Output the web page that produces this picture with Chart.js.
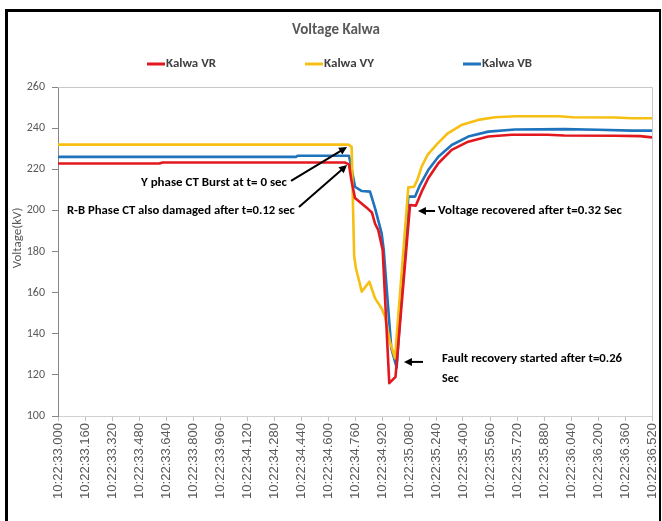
<!DOCTYPE html>
<html><head><meta charset="utf-8">
<script src="https://cdn.jsdelivr.net/npm/chart.js@4.4.1/dist/chart.umd.min.js"></script>
<style>
html,body{margin:0;padding:0;background:#fff;width:662px;height:521px;overflow:hidden}
#frame{position:absolute;left:5px;top:9px;width:651px;height:512px;border-left:3px solid #000;border-top:3px solid #000;border-right:2px solid #000;box-sizing:content-box}
#c{position:absolute;left:8px;top:12px}
</style></head><body>
<div id="frame"></div>
<canvas id="c" width="650" height="509"></canvas>
<script>
// ---- data (time in seconds after 10:22:33.000, voltage in kV) ----
const seriesNames = ['Kalwa VR', 'Kalwa VY', 'Kalwa VB'];
const tickLabels = ['10:22:33.000','10:22:33.160','10:22:33.320','10:22:33.480','10:22:33.640','10:22:33.800',
 '10:22:33.960','10:22:34.120','10:22:34.280','10:22:34.440','10:22:34.600','10:22:34.760','10:22:34.920',
 '10:22:35.080','10:22:35.240','10:22:35.400','10:22:35.560','10:22:35.720','10:22:35.880','10:22:36.040',
 '10:22:36.200','10:22:36.360','10:22:36.520'];
const yTicks = [100,120,140,160,180,200,220,240,260];

const tR = [0, 0.60, 0.62, 1.70, 1.724, 1.74, 1.76, 1.79, 1.84, 1.86, 1.879, 1.898, 1.924, 1.963, 2.00, 2.086, 2.12, 2.155, 2.194, 2.254, 2.333, 2.431, 2.55, 2.689, 2.90, 3.00, 3.30, 3.45, 3.52];
const vR = [222.8, 222.8, 223.3, 223.3, 222.4, 214.0, 206.0, 204.0, 200.5, 199.0, 193.5, 190.4, 180.7, 116.0, 119.0, 202.6, 202.3, 209.1, 215.6, 222.9, 229.4, 233.4, 235.9, 236.8, 236.8, 236.4, 236.3, 236.1, 235.5];

const tY = [0, 1.72, 1.74, 1.755, 1.765, 1.80, 1.845, 1.879, 1.918, 1.938, 1.967, 1.997, 2.076, 2.11, 2.13, 2.155, 2.19, 2.25, 2.31, 2.39, 2.49, 2.59, 2.71, 2.97, 3.05, 3.30, 3.40, 3.52];
const vY = [232.0, 232.0, 231.0, 178.0, 172.0, 160.5, 165.3, 157.2, 152.3, 148.3, 136.1, 128.1, 211.2, 211.5, 215.0, 221.3, 227.0, 232.6, 237.5, 241.5, 244.0, 245.3, 245.8, 245.8, 245.3, 245.2, 244.8, 244.8];

const tB = [0, 1.41, 1.42, 1.724, 1.736, 1.76, 1.80, 1.849, 1.879, 1.918, 1.93, 1.975, 2.007, 2.076, 2.116, 2.145, 2.194, 2.254, 2.333, 2.431, 2.55, 2.708, 3.00, 3.20, 3.40, 3.52];
const vB = [226.0, 226.0, 226.6, 226.6, 222.0, 211.5, 209.4, 209.1, 201.0, 188.8, 181.0, 133.0, 123.5, 206.7, 206.7, 212.3, 219.6, 226.1, 231.8, 235.9, 238.3, 239.3, 239.5, 239.2, 238.8, 238.8];

const colors = ['#e3171e', '#f7bf12', '#1f73bd'];

// ---- font choice ----
function pickFont(cands){
  const c = document.createElement('canvas').getContext('2d');
  const s = 'Voltage Kalwa 0123456789 sec';
  for (const f of cands){
    c.font = `bold 20px "${f}", monospace`; const a = c.measureText(s).width;
    c.font = `bold 20px "${f}", serif`; const b = c.measureText(s).width;
    if (Math.abs(a-b) < 0.01) return `"${f}"`;
  }
  return 'sans-serif';
}
const UI = pickFont(['Carlito','Liberation Sans Narrow','Lato','Open Sans']);

function labelSec(lbl){ const p = lbl.split(':'); return Math.round(((+p[1]-22)*60 + (+p[2]) - 33)*1000)/1000; }
const tickVals = tickLabels.map(labelSec);

function pts(t, v){ return t.map((x,i)=>({x, y:v[i]})); }

function fitText(ctx, text, x, y, w, align){
  const m = ctx.measureText(text).width;
  const sx = w ? w/m : 1;
  ctx.save();
  ctx.translate(x, y);
  ctx.scale(sx, 1);
  ctx.textAlign = align || 'left';
  ctx.fillText(text, 0, 0);
  ctx.restore();
}
function arrow(ctx, x1, y1, x2, y2){
  const a = Math.atan2(y2-y1, x2-x1), L = 8, W = 4;
  ctx.beginPath(); ctx.moveTo(x1,y1); ctx.lineTo(x2 - Math.cos(a)*L*0.8, y2 - Math.sin(a)*L*0.8); ctx.stroke();
  ctx.beginPath();
  ctx.moveTo(x2, y2);
  ctx.lineTo(x2 - L*Math.cos(a) + W*Math.sin(a), y2 - L*Math.sin(a) - W*Math.cos(a));
  ctx.lineTo(x2 - L*Math.cos(a) - W*Math.sin(a), y2 - L*Math.sin(a) + W*Math.cos(a));
  ctx.closePath(); ctx.fill();
}

const deco = {
  id: 'deco',
  afterDraw(chart){
    const ctx = chart.ctx, ca = chart.chartArea, X = chart.scales.x, Y = chart.scales.y;
    ctx.save();
    // plot frame top/right
    ctx.strokeStyle = '#c8c8c8'; ctx.lineWidth = 1;
    ctx.beginPath(); ctx.moveTo(ca.left, ca.top+0.5); ctx.lineTo(ca.right+0.5, ca.top+0.5); ctx.lineTo(ca.right+0.5, ca.bottom); ctx.stroke();
    // title
    ctx.fillStyle = '#595959'; ctx.textBaseline = 'middle';
    ctx.font = `bold 15px ${UI}`;
    fitText(ctx, 'Voltage Kalwa', 328, 18, 88, 'center');
    // legend
    chart.data.datasets.forEach((ds, i) => {
      const x0 = 139 + i*158, y0 = 52;
      ctx.strokeStyle = ds.borderColor; ctx.lineWidth = 3;
      ctx.beginPath(); ctx.moveTo(x0, y0); ctx.lineTo(x0+18, y0); ctx.stroke();
      ctx.fillStyle = '#404040'; ctx.font = `bold 12px ${UI}`;
      fitText(ctx, ds.label, x0+19, y0, 50, 'left');
    });
    // y axis title
    ctx.save(); ctx.translate(10, 226); ctx.rotate(-Math.PI/2);
    ctx.fillStyle = '#595959'; ctx.font = `13px ${UI}`; ctx.textAlign = 'center';
    ctx.fillText('Voltage(kV)', 0, 0); ctx.restore();
    // annotations
    const px = t => X.getPixelForValue(t), py = v => Y.getPixelForValue(v);
    ctx.fillStyle = '#000'; ctx.strokeStyle = '#000'; ctx.lineWidth = 2;
    ctx.font = `bold 12px ${UI}`;
    fitText(ctx, 'Y phase CT Burst at t= 0 sec', px(1.357), py(213.3), 146, 'right');
    arrow(ctx, px(1.381), py(214.3), px(1.713), py(230.8));
    fitText(ctx, 'R-B Phase CT also damaged after t=0.12 sec', px(1.404), py(199.7), 228, 'right');
    arrow(ctx, px(1.428), py(201.6), px(1.713), py(222.1));
    fitText(ctx, 'Voltage recovered after t=0.32 Sec', px(2.252), py(199.7), 184, 'left');
    arrow(ctx, px(2.234), py(199.7), px(2.133), py(199.7));
    fitText(ctx, 'Fault recovery started after t=0.26', px(2.276), py(127.7), 180, 'left');
    fitText(ctx, 'Sec', px(2.276), py(118.0), null, 'left');
    arrow(ctx, px(2.163), py(126.3), px(2.050), py(126.3));
    ctx.restore();
  }
};

new Chart(document.getElementById('c'), {
  type: 'line',
  data: {
    datasets: [
      {label: seriesNames[0], data: pts(tR, vR), borderColor: colors[0]},
      {label: seriesNames[1], data: pts(tY, vY), borderColor: colors[1]},
      {label: seriesNames[2], data: pts(tB, vB), borderColor: colors[2]}
    ]
  },
  options: {
    responsive: false, animation: false,
    layout: {padding: {top: 75, right: 6, left: 0, bottom: 0}},
    plugins: {legend: {display: false}, title: {display: false}, tooltip: {enabled: false}},
    elements: {point: {radius: 0}, line: {borderWidth: 2.6, tension: 0, fill: false, borderJoinStyle: 'round'}},
    scales: {
      x: {
        type: 'linear', min: tickVals[0], max: tickVals[tickVals.length-1],
        afterBuildTicks(s){ s.ticks = tickVals.map(v => ({value: v})); },
        afterFit(s){ s.height = 105; s.paddingLeft = 0; s.paddingRight = 0; },
        ticks: {autoSkip: false, minRotation: 90, maxRotation: 90, padding: 2, color: '#595959',
          font: {family: '"Liberation Sans", Arial, sans-serif', size: 13},
          callback(v){ const i = tickVals.findIndex(t => Math.abs(t - v) < 1e-6); return i >= 0 ? tickLabels[i] : ''; }},
        grid: {drawOnChartArea: false, drawTicks: true, tickLength: 5, color: '#bfbfbf'},
        border: {color: '#d0d0d0'}
      },
      y: {
        min: yTicks[0], max: yTicks[yTicks.length-1],
        afterBuildTicks(s){ s.ticks = yTicks.map(v => ({value: v})); },
        afterFit(s){ s.width = 50; },
        ticks: {color: '#595959', font: {family: UI, size: 12}, padding: 7},
        grid: {drawOnChartArea: false, drawTicks: true, tickLength: 6, color: '#868686'},
        border: {color: '#868686'}
      }
    }
  },
  plugins: [deco]
});
</script>
</body></html>
